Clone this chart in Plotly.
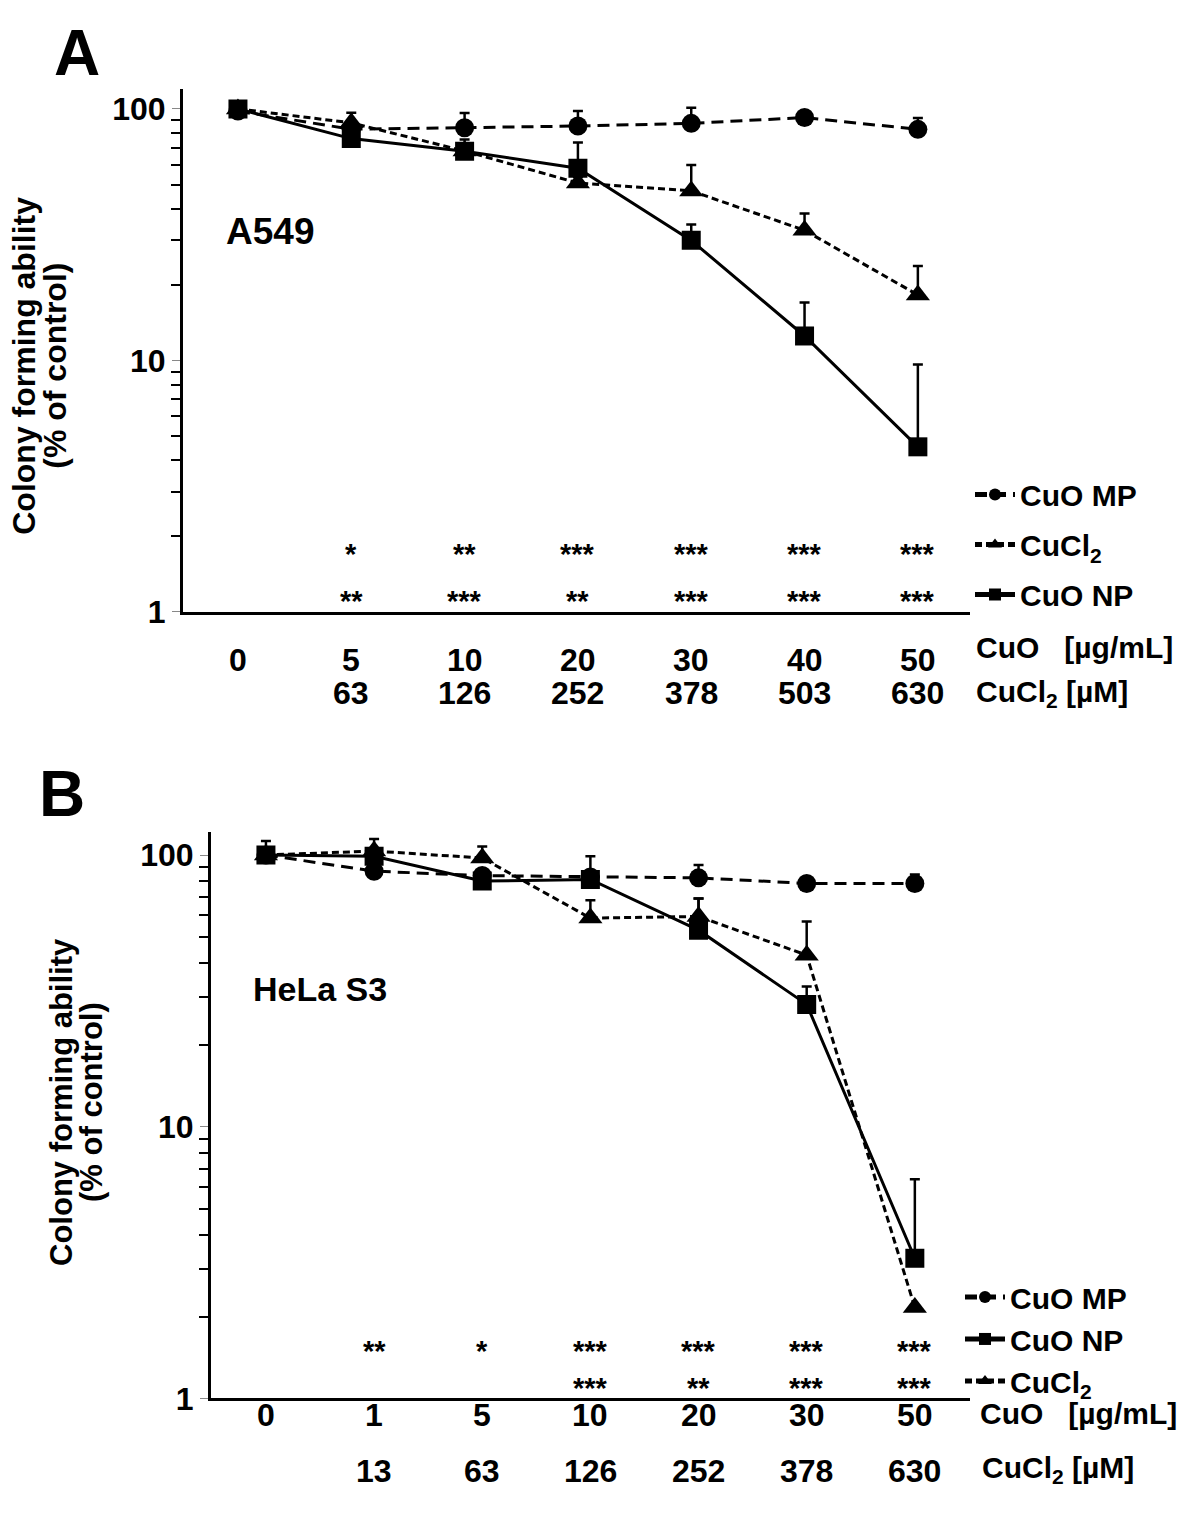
import math
import plotly.graph_objects as go

W, H = 1200, 1529
FONT = "Liberation Sans, Arial, Helvetica, sans-serif"

# ---- panel A: A549 ----
a_cuo = ["0", "5", "10", "20", "30", "40", "50"]
a_cucl2 = ["", "63", "126", "252", "378", "503", "630"]
a_mp = [98, 83, 84.2, 85.5, 87.6, 92.4, 82.9]
a_mp_err = [0, 4, 12.2, 12.5, 13.4, 1, 9.1]
a_cl = [100, 88, 68, 50.7, 47.2, 32.9, 18.2]
a_cl_err = [0, 8.5, 3, 3, 12.6, 5.5, 5.5]
a_np = [100, 76.2, 67.8, 58.1, 30.0, 12.5, 4.53]
a_np_err = [0, 3, 7.7, 15.4, 4.7, 4.5, 5.1]
a_star_cl = ["", "*", "**", "***", "***", "***", "***"]
a_star_np = ["", "**", "***", "**", "***", "***", "***"]

# ---- panel B: HeLa S3 ----
b_cuo = ["0", "1", "5", "10", "20", "30", "50"]
b_cucl2 = ["", "13", "63", "126", "252", "378", "630"]
b_mp = [100, 87.2, 84, 83, 82.4, 78.6, 78.6]
b_mp_err = [0, 0, 0, 0, 9.5, 2, 6.2]
b_cl = [100, 103.4, 97.5, 58.6, 59.4, 42.8, 2.16]
b_cl_err = [0, 11.2, 10, 9.6, 9.8, 14.1, 0]
b_np = [100, 98.9, 80.2, 81.3, 52.9, 28.2, 3.28]
b_np_err = [12.7, 0, 0, 17.7, 16.3, 4.6, 3.13]
b_star_np = ["", "**", "*", "***", "***", "***", "***"]
b_star_cl = ["", "", "", "***", "**", "***", "***"]

fig = go.Figure()


def add_series(xa, ya, vals, errs, name, symbol, dash, width, legend, group):
    n = len(vals)
    fig.add_trace(
        go.Scatter(
            x=list(range(n)),
            y=vals,
            xaxis=xa,
            yaxis=ya,
            mode="lines+markers",
            name=name,
            legend=legend,
            legendgroup=group,
            line=dict(color="black", width=width, dash=dash),
            marker=dict(symbol=symbol, size=19 if symbol != "triangle-up" else 21, color="black"),
            error_y=dict(
                type="data",
                symmetric=False,
                array=errs,
                arrayminus=[0] * n,
                color="black",
                thickness=2.5,
                width=5,
            ),
        )
    )


MP_DASH = "12px,7px"
CL_DASH = "7px,4px"

add_series("x", "y", a_mp, a_mp_err, "CuO MP", "circle", MP_DASH, 3, "legend", "a1")
add_series("x", "y", a_cl, a_cl_err, "CuCl<sub>2</sub>", "triangle-up", CL_DASH, 3, "legend", "a2")
add_series("x", "y", a_np, a_np_err, "CuO NP", "square", "solid", 3, "legend", "a3")

add_series("x2", "y2", b_mp, b_mp_err, "CuO MP", "circle", MP_DASH, 3, "legend2", "b1")
add_series("x2", "y2", b_np, b_np_err, "CuO NP", "square", "solid", 3, "legend2", "b2")
add_series("x2", "y2", b_cl, b_cl_err, "CuCl<sub>2</sub>", "triangle-up", CL_DASH, 3, "legend2", "b3")


def py(px):
    return 1 - px / H


def px_(px):
    return px / W


minor_vals = [2, 3, 4, 5, 6, 7, 8, 9, 20, 30, 40, 50, 60, 70, 80, 90]
yaxis_common = dict(
    type="log",
    showline=True,
    linewidth=3,
    linecolor="black",
    showgrid=False,
    zeroline=False,
    tickmode="array",
    tickvals=[1, 10, 100],
    ticktext=["1", "10", "100"],
    ticks="outside",
    ticklen=8,
    tickwidth=1,
    tickcolor="#888",
    tickfont=dict(family=FONT, size=32, color="black", weight="bold"),
    minor=dict(tickmode="array", tickvals=minor_vals, ticks="outside",
               ticklen=9, tickwidth=2, tickcolor="black"),
)
xaxis_common = dict(
    showline=True,
    linewidth=3,
    linecolor="black",
    showgrid=False,
    zeroline=False,
    ticks="",
    showticklabels=False,
)

fig.update_layout(
    width=W,
    height=H,
    autosize=False,
    margin=dict(l=0, r=0, t=0, b=0),
    paper_bgcolor="white",
    plot_bgcolor="white",
    xaxis=dict(xaxis_common, domain=[px_(175), px_(962)], range=[-0.485, 6.46], anchor="y"),
    yaxis=dict(yaxis_common, domain=[py(611), py(82)], range=[0, 2.079], anchor="x"),
    xaxis2=dict(xaxis_common, domain=[px_(203), px_(962)], range=[-0.508, 6.51], anchor="y2"),
    yaxis2=dict(yaxis_common, domain=[py(1407), py(834)], range=[0, 2.084], anchor="x2"),
    legend=dict(
        x=px_(962), y=py(466), xanchor="left", yanchor="top",
        font=dict(family=FONT, size=30, color="black", weight="bold"),
        bgcolor="rgba(0,0,0,0)", itemwidth=40, tracegroupgap=8,
        traceorder="grouped", itemsizing="constant",
    ),
    legend2=dict(
        x=px_(952), y=py(1278), xanchor="left", yanchor="top",
        font=dict(family=FONT, size=30, color="black", weight="bold"),
        bgcolor="rgba(0,0,0,0)", itemwidth=40, tracegroupgap=0,
        traceorder="grouped", itemsizing="constant",
    ),
    showlegend=True,
)

ann = []


def text(x, y, s, size, xanchor="center", yanchor="middle", angle=0, xref="paper", yref="paper"):
    ann.append(dict(
        x=x, y=y, xref=xref, yref=yref, text=s, showarrow=False,
        xanchor=xanchor, yanchor=yanchor, textangle=angle,
        font=dict(family=FONT, size=size, color="black", weight="bold"),
    ))


# panel letters and cell line names
text(px_(69), py(46), "A", 64)
text(px_(54), py(795), "B", 64)
text(px_(216), py(226), "A549", 37, xanchor="left")
text(px_(243), py(993), "HeLa S3", 34, xanchor="left")

# y-axis titles
text(px_(16), py(362), "Colony forming ability", 32, angle=-90)
text(px_(47), py(362), "(% of control)", 32, angle=-90)
text(px_(54), py(1107), "Colony forming ability", 31, angle=-90)
text(px_(84), py(1107), "(% of control)", 31, angle=-90)

# x labels, panel A
for i, (c, m) in enumerate(zip(a_cuo, a_cucl2)):
    text(i, py(660), c, 32, xref="x")
    if m:
        text(i, py(693), m, 32, xref="x")
text(px_(966), py(647), "CuO\u00a0\u00a0\u00a0[µg/mL]", 30, xanchor="left")
text(px_(966), py(694), "CuCl<sub>2</sub> [µM]", 30, xanchor="left")

# x labels, panel B
for i, (c, m) in enumerate(zip(b_cuo, b_cucl2)):
    text(i, py(1424), c, 32, xref="x2")
    if m:
        text(i, py(1480), m, 32, xref="x2")
text(px_(970), py(1422), "CuO\u00a0\u00a0\u00a0[µg/mL]", 30, xanchor="left")
text(px_(972), py(1479), "CuCl<sub>2</sub> [µM]", 30, xanchor="left")

# significance marks
for i, s in enumerate(a_star_cl):
    if s:
        text(i, math.log10(1.70), s, 29, xref="x", yref="y")
for i, s in enumerate(a_star_np):
    if s:
        text(i, math.log10(1.10), s, 29, xref="x", yref="y")
for i, s in enumerate(b_star_np):
    if s:
        text(i, math.log10(1.49), s, 29, xref="x2", yref="y2")
for i, s in enumerate(b_star_cl):
    if s:
        text(i, math.log10(1.09), s, 29, xref="x2", yref="y2")

fig.update_layout(annotations=ann)

fig.write_html("out.html")
